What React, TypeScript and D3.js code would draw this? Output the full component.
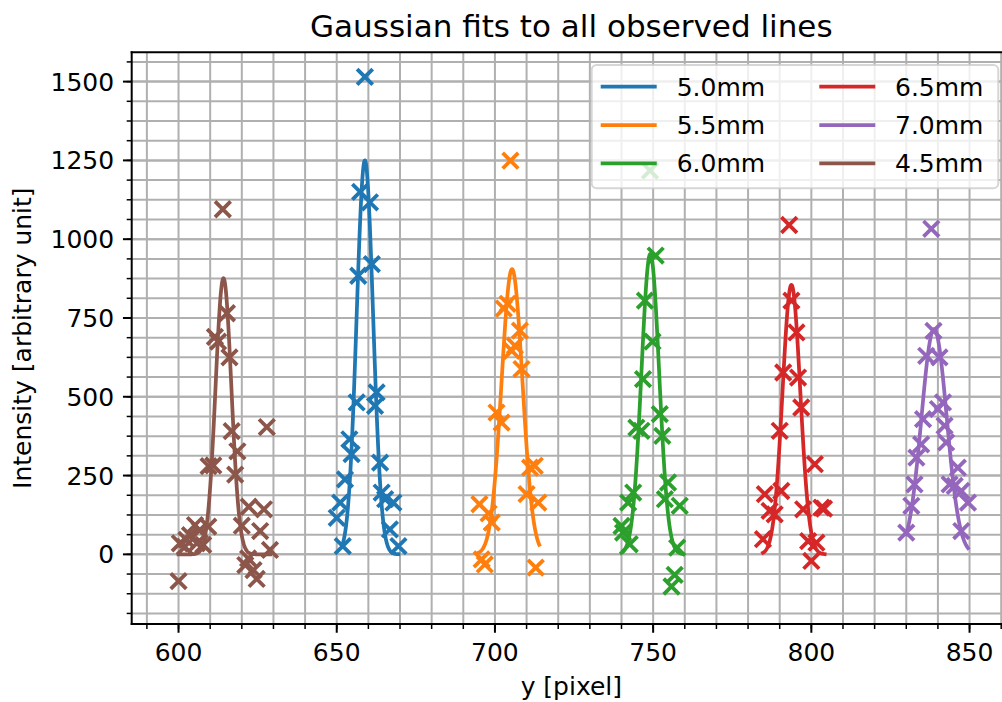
import React from 'react';
import * as d3 from 'd3';

// Figure and axes geometry
const W = 1002;
const H = 702;
const AX = { left: 131.7, right: 1011, top: 52.3, bottom: 624 };

const X_DOMAIN: [number, number] = [585.2, 863.1];
const Y_DOMAIN: [number, number] = [-221, 1593];

const xMajorTicks = [600, 650, 700, 750, 800, 850];
const yMajorTicks = [0, 250, 500, 750, 1000, 1250, 1500];
const xMinorStep = 10;
const yMinorStep = 62.5;

const seriesLabels = ['5.0mm', '5.5mm', '6.0mm', '6.5mm', '7.0mm', '4.5mm'];
const seriesColors = ['#1f77b4', '#ff7f0e', '#2ca02c', '#d62728', '#9467bd', '#8c564b'];

// Observed line intensities, one pair of arrays per aperture
const x50 = [658.9, 657.4, 660.5, 661.1, 656.8, 656.3, 662.6, 662.1, 654.0, 654.7, 652.6, 663.7, 651.1, 650.0, 664.2, 665.3, 667.9, 666.8, 669.5, 651.9];
const y50 = [1515, 1150, 1117, 921, 884, 482, 514, 471, 365, 318, 238, 291, 164, 116, 196, 175, 164, 79, 26, 26];

const x55 = [704.9, 702.8, 704.0, 707.9, 706.3, 705.3, 708.4, 700.5, 702.1, 711.1, 712.6, 710.0, 713.7, 695.1, 699.0, 698.0, 695.8, 696.8, 712.9];
const y55 = [1249, 780, 795, 710, 662, 646, 588, 450, 418, 275, 281, 191, 164, 159, 101, 130, -16, -32, -42];

const x60 = [749.0, 750.8, 747.4, 749.8, 746.8, 744.7, 746.3, 752.1, 752.9, 743.7, 742.1, 754.7, 753.7, 758.4, 740.5, 740.0, 742.6, 757.6, 756.8, 755.8];
const y60 = [1218, 948, 805, 675, 556, 402, 392, 445, 376, 196, 164, 228, 175, 154, 69, 90, 32, 21, -65, -102];

const x65 = [793.0, 793.7, 795.3, 791.1, 795.8, 796.8, 790.0, 801.1, 785.3, 790.5, 786.8, 788.4, 797.4, 803.2, 784.7, 799.0, 801.6, 800.0, 804.0];
const y65 = [1045, 805, 704, 577, 561, 466, 392, 286, 191, 201, 138, 127, 143, 148, 48, 42, 37, -21, 145];

const x70 = [837.9, 838.6, 836.3, 840.5, 841.6, 840.0, 835.3, 842.1, 842.6, 834.7, 833.2, 846.3, 832.6, 843.7, 845.3, 847.4, 849.5, 831.6, 830.0, 847.4];
const y70 = [1033, 709, 630, 625, 482, 461, 429, 408, 355, 349, 307, 275, 222, 222, 217, 201, 164, 154, 69, 74];

const x45 = [614.0, 615.3, 611.5, 612.5, 616.1, 616.8, 627.9, 618.6, 609.5, 611.0, 617.9, 622.2, 627.0, 620.0, 625.8, 628.9, 600.4, 602.0, 603.6, 605.2, 606.7, 607.8, 609.4, 605.8, 602.5, 600.0, 621.1, 623.7, 624.7, 622.0];
const y45 = [1095, 765, 690, 675, 625, 391, 404, 327, 280, 282, 253, 151, 143, 91, 74, 14, 35, 24, 61, 93, 77, 30, 88, 35, 46, -85, -34, -50, -78, -13];

const seriesX = [x50, x55, x60, x65, x70, x45];
const seriesY = [y50, y55, y60, y65, y70, y45];

// Gaussian fit parameters per aperture
const fitAmplitude = [1250, 905, 953, 855, 715, 876];
const fitCenter = [658.9, 705.4, 749.1, 793.7, 838.8, 614.2];
const fitSigma = [2.6, 3.3, 2.8, 2.8, 4.0, 2.5];
const fitStart = [651.9, 694.7, 740.0, 784.7, 830.0, 600.0];
const fitEnd = [669.5, 714.0, 759.5, 804.2, 849.5, 629.0];

const FONT = 'DejaVu Sans, sans-serif';
const TICK_FONT = 25;
const GRID = '#b0b0b0';

function gaussian(x: number, a: number, mu: number, s: number) {
  return a * Math.exp(-((x - mu) * (x - mu)) / (2 * s * s));
}

export default function App() {
  const x = d3.scaleLinear().domain(X_DOMAIN).range([AX.left, AX.right]);
  const y = d3.scaleLinear().domain(Y_DOMAIN).range([AX.bottom, AX.top]);

  const xMinor = d3.range(590, 870, xMinorStep).filter((v) => v >= X_DOMAIN[0] && v <= X_DOMAIN[1]);
  const yMinor = d3.range(-187.5, 1600, yMinorStep).filter((v) => v >= Y_DOMAIN[0] && v <= Y_DOMAIN[1]);

  const line = d3
    .line<[number, number]>()
    .x((d) => x(d[0]))
    .y((d) => y(d[1]));

  const fitPaths = fitAmplitude.map((a, i) => {
    const n = 300;
    const pts: [number, number][] = d3.range(n + 1).map((k) => {
      const xv = fitStart[i] + ((fitEnd[i] - fitStart[i]) * k) / n;
      return [xv, gaussian(xv, a, fitCenter[i], fitSigma[i])];
    });
    return line(pts) as string;
  });

  const m = 7.8; // half size of the x markers

  const legendRows = 3;
  const legendBox = { x: 591.7, y: 65, w: 406.6, h: 123.3 };
  const legendRowY = [86.7, 125, 163.3];
  const legendHandleX = [600.7, 819.3];
  const legendHandleLen = 56;
  const legendTextX = [676.7, 895];

  const plotW = AX.right - AX.left;
  const plotH = AX.bottom - AX.top;

  return (
    <svg
      width={W}
      height={H}
      viewBox={`0 0 ${W} ${H}`}
      style={{ position: 'absolute', left: 0, top: 0, background: '#fff' }}
      fontFamily={FONT}
    >
      <defs>
        <clipPath id="plot-area">
          <rect x={AX.left} y={AX.top} width={plotW} height={plotH} />
        </clipPath>
      </defs>
      <rect x={0} y={0} width={W} height={H} fill="#fff" />

      {/* grid, major and minor */}
      <g stroke={GRID} strokeWidth={2} clipPath="url(#plot-area)">
        {xMinor.map((v) => (
          <line key={'gx' + v} x1={x(v)} x2={x(v)} y1={AX.top} y2={AX.bottom} />
        ))}
        {yMinor.map((v) => (
          <line key={'gy' + v} x1={AX.left} x2={AX.right} y1={y(v)} y2={y(v)} />
        ))}
        {yMajorTicks.map((v) => (
          <line key={'gY' + v} x1={AX.left} x2={AX.right} y1={y(v)} y2={y(v)} />
        ))}
      </g>

      {/* data and fits */}
      <g clipPath="url(#plot-area)">
        {seriesX.map((xs, i) => (
          <g key={'s' + i}>
            <g stroke={seriesColors[i]} strokeWidth={3.8} strokeLinecap="butt">
              {xs.map((xv, k) => {
                const cx = x(xv);
                const cy = y(seriesY[i][k]);
                return (
                  <path
                    key={k}
                    d={`M${cx - m},${cy - m}L${cx + m},${cy + m}M${cx - m},${cy + m}L${cx + m},${cy - m}`}
                  />
                );
              })}
            </g>
            <path
              d={fitPaths[i]}
              fill="none"
              stroke={seriesColors[i]}
              strokeWidth={3.75}
              strokeLinejoin="round"
              strokeLinecap="square"
            />
          </g>
        ))}
      </g>

      {/* spines */}
      <g stroke="#000" strokeWidth={2} fill="none">
        <line x1={AX.left} x2={AX.left} y1={AX.top} y2={AX.bottom} strokeLinecap="square" />
        <line x1={AX.left} x2={AX.right} y1={AX.bottom} y2={AX.bottom} strokeLinecap="square" />
        <line x1={AX.left} x2={AX.right} y1={AX.top} y2={AX.top} strokeLinecap="square" />
        <line x1={AX.right} x2={AX.right} y1={AX.top} y2={AX.bottom} strokeLinecap="square" />
      </g>

      {/* ticks */}
      <g stroke="#000">
        {xMajorTicks.map((v) => (
          <line key={'tx' + v} x1={x(v)} x2={x(v)} y1={AX.bottom} y2={AX.bottom + 8.75} strokeWidth={2} />
        ))}
        {xMinor.map((v) => (
          <line key={'mx' + v} x1={x(v)} x2={x(v)} y1={AX.bottom} y2={AX.bottom + 5} strokeWidth={1.5} />
        ))}
        {yMajorTicks.map((v) => (
          <line key={'ty' + v} x1={AX.left - 8.75} x2={AX.left} y1={y(v)} y2={y(v)} strokeWidth={2} />
        ))}
        {yMinor.map((v) => (
          <line key={'my' + v} x1={AX.left - 5} x2={AX.left} y1={y(v)} y2={y(v)} strokeWidth={1.5} />
        ))}
      </g>

      {/* tick labels */}
      <g fontSize={TICK_FONT} fill="#000">
        {xMajorTicks.map((v) => (
          <text key={'lx' + v} x={x(v)} y={661} textAnchor="middle">
            {v}
          </text>
        ))}
        {yMajorTicks.map((v) => (
          <text key={'ly' + v} x={AX.left - 17.5} y={y(v)} dy="0.36em" textAnchor="end">
            {v}
          </text>
        ))}
      </g>

      {/* axis labels and title */}
      <text x={(AX.left + AX.right) / 2} y={695} textAnchor="middle" fontSize={TICK_FONT}>
        y [pixel]
      </text>
      <text
        transform={`translate(31,${(AX.top + AX.bottom) / 2}) rotate(-90)`}
        textAnchor="middle"
        fontSize={TICK_FONT}
      >
        Intensity [arbitrary unit]
      </text>
      <text x={(AX.left + AX.right) / 2} y={36.7} textAnchor="middle" fontSize={31}>
        Gaussian fits to all observed lines
      </text>

      {/* legend */}
      <g>
        <rect
          x={legendBox.x}
          y={legendBox.y}
          width={legendBox.w}
          height={legendBox.h}
          rx={5}
          ry={5}
          fill="#fff"
          fillOpacity={0.8}
          stroke="#cccccc"
          strokeOpacity={0.8}
          strokeWidth={2}
        />
        {seriesLabels.map((lab, i) => {
          const col = Math.floor(i / legendRows);
          const row = i % legendRows;
          const ly = legendRowY[row];
          return (
            <g key={'lg' + i}>
              <line
                x1={legendHandleX[col]}
                x2={legendHandleX[col] + legendHandleLen}
                y1={ly}
                y2={ly}
                stroke={seriesColors[i]}
                strokeWidth={3.75}
              />
              <text x={legendTextX[col]} y={ly} dy="0.36em" fontSize={TICK_FONT}>
                {lab}
              </text>
            </g>
          );
        })}
      </g>
    </svg>
  );
}
